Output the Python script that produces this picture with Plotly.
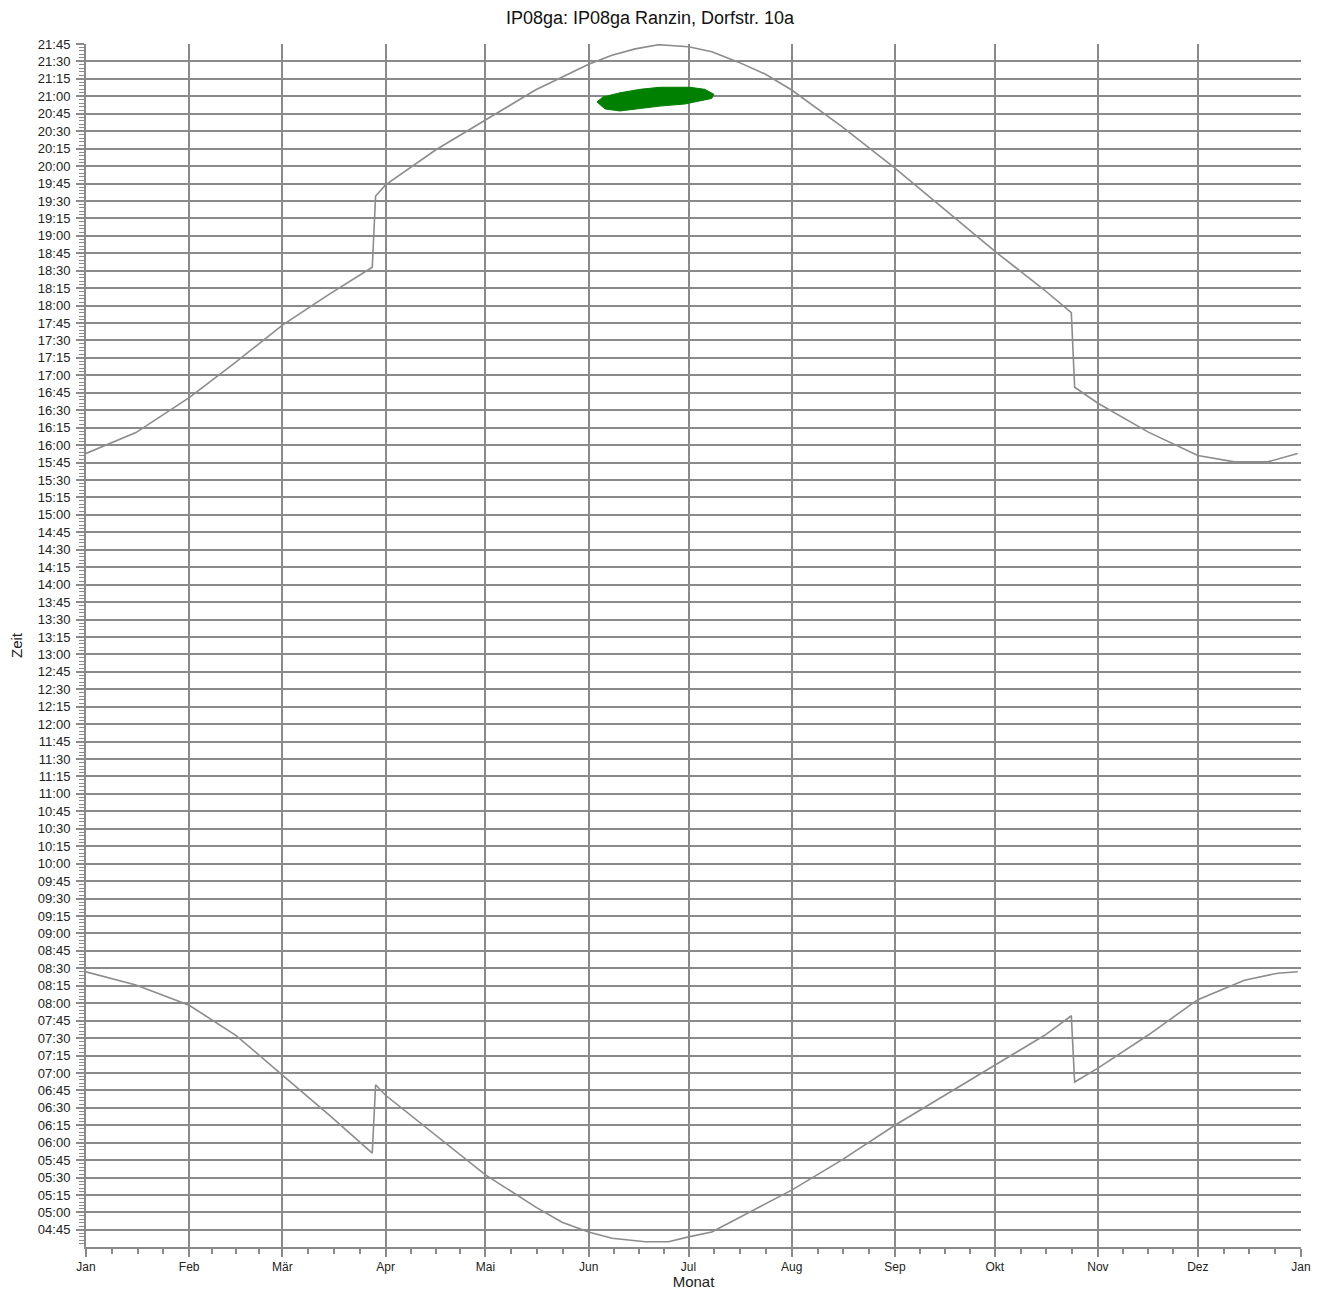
import plotly.graph_objects as go

# day of year (0 = 1 Jan) and time in hours
sunset_day = [0, 15, 31, 45, 59, 73, 86, 87, 90, 105, 120, 135, 151, 158, 165, 172, 181,
              188, 196, 204, 212, 227, 243, 258, 273, 288, 296, 297, 304, 319, 334, 345,
              355, 364]
sunset_h = [15.88, 16.18, 16.68, 17.19, 17.72, 18.16, 18.55, 19.57, 19.73, 20.23, 20.66,
            21.09, 21.46, 21.59, 21.68, 21.74, 21.71, 21.64, 21.49, 21.32, 21.09, 20.57,
            19.97, 19.37, 18.78, 18.22, 17.90, 16.83, 16.60, 16.19, 15.85, 15.76, 15.76,
            15.88]

sunrise_day = [0, 15, 31, 45, 59, 73, 86, 87, 90, 105, 120, 135, 143, 151, 158, 168, 175,
               181, 188, 196, 204, 212, 227, 243, 258, 273, 288, 296, 297, 304, 319, 334,
               348, 358, 364]
sunrise_h = [8.45, 8.26, 7.97, 7.54, 6.97, 6.40, 5.85, 6.83, 6.68, 6.11, 5.54, 5.08,
             4.86, 4.72, 4.63, 4.58, 4.58, 4.65, 4.72, 4.92, 5.12, 5.32, 5.75, 6.25,
             6.68, 7.11, 7.54, 7.82, 6.87, 7.07, 7.54, 8.05, 8.33, 8.43, 8.45]

# shadow period (outline)
shadow_day = [153.5, 155.3, 160.4, 166.4, 172.4, 181.4, 185.9, 188.6, 188.0, 184.4,
              179.9, 172.4, 166.4, 160.4, 155.9, 153.5]
shadow_h = [20.92, 20.99, 21.05, 21.10, 21.13, 21.13, 21.10, 21.03, 20.97, 20.93,
            20.89, 20.86, 20.82, 20.79, 20.82, 20.92]

month_start = [0, 31, 59, 90, 120, 151, 181, 212, 243, 273, 304, 334, 365]
month_names = ["Jan", "Feb", "Mär", "Apr", "Mai", "Jun", "Jul", "Aug", "Sep", "Okt",
               "Nov", "Dez", "Jan"]

y_ticks = [4.75 + 0.25 * i for i in range(69)]
y_text = ["%02d:%02d" % (int(v), round((v - int(v)) * 60)) for v in y_ticks]

quarter_ticks = []
for a, b in zip(month_start[:-1], month_start[1:]):
    for k in (1, 2, 3):
        quarter_ticks.append(a + (b - a) * k / 4)

GRID = "#8a8a8a"
LINE = "#8c8c8c"
FONT = "Liberation Sans"

fig = go.Figure()
fig.add_trace(go.Scatter(x=sunset_day, y=sunset_h, mode="lines",
                         line=dict(color=LINE, width=1.6), showlegend=False))
fig.add_trace(go.Scatter(x=sunrise_day, y=sunrise_h, mode="lines",
                         line=dict(color=LINE, width=1.6), showlegend=False))
fig.add_trace(go.Scatter(x=shadow_day, y=shadow_h, mode="lines", fill="toself",
                         fillcolor="#008000", line=dict(color="#008000", width=1),
                         showlegend=False))

# page body adds 8px offset -> figure is 8px smaller, margins shifted
fig.update_layout(
    width=1319, height=1282,
    margin=dict(l=78, r=26, t=36, b=43),
    paper_bgcolor="white", plot_bgcolor="white",
    font=dict(family=FONT, color="#222222", size=13),
    title=dict(text="IP08ga: IP08ga Ranzin, Dorfstr. 10a", x=642 / 1319, xref="container",
               xanchor="center", y=1 - 10 / 1282, yref="container", yanchor="middle",
               font=dict(size=18, color="#111111")),
)

fig.update_xaxes(
    range=[0, 365], tickmode="array", tickvals=month_start, ticktext=month_names,
    automargin=False,
    showgrid=True, gridcolor=GRID, gridwidth=2, zeroline=False,
    showline=True, linecolor=GRID, linewidth=2,
    ticks="outside", ticklen=8, tickcolor=GRID, tickwidth=1.5,
    tickfont=dict(size=12),
    minor=dict(tickmode="array", tickvals=quarter_ticks, ticks="outside", ticklen=5,
               tickcolor=GRID, tickwidth=1.5, showgrid=False),
    title=dict(text="Monat", standoff=3, font=dict(size=15)),
)
fig.update_yaxes(
    range=[4.505, 21.75], tickmode="array", tickvals=y_ticks, ticktext=y_text,
    automargin=False,
    showgrid=True, gridcolor=GRID, gridwidth=2, zeroline=False,
    showline=True, linecolor=GRID, linewidth=2,
    ticks="outside", ticklen=8, tickcolor=GRID, tickwidth=1.5,
    ticklabelstandoff=3, tickfont=dict(size=13),
    minor=dict(tickmode="linear", tick0=0, dtick=0.05, ticks="outside", ticklen=5,
               tickcolor=GRID, tickwidth=1, showgrid=False),
    title=dict(text="Zeit", standoff=12, font=dict(size=15)),
)

fig.write_html("out.html")
